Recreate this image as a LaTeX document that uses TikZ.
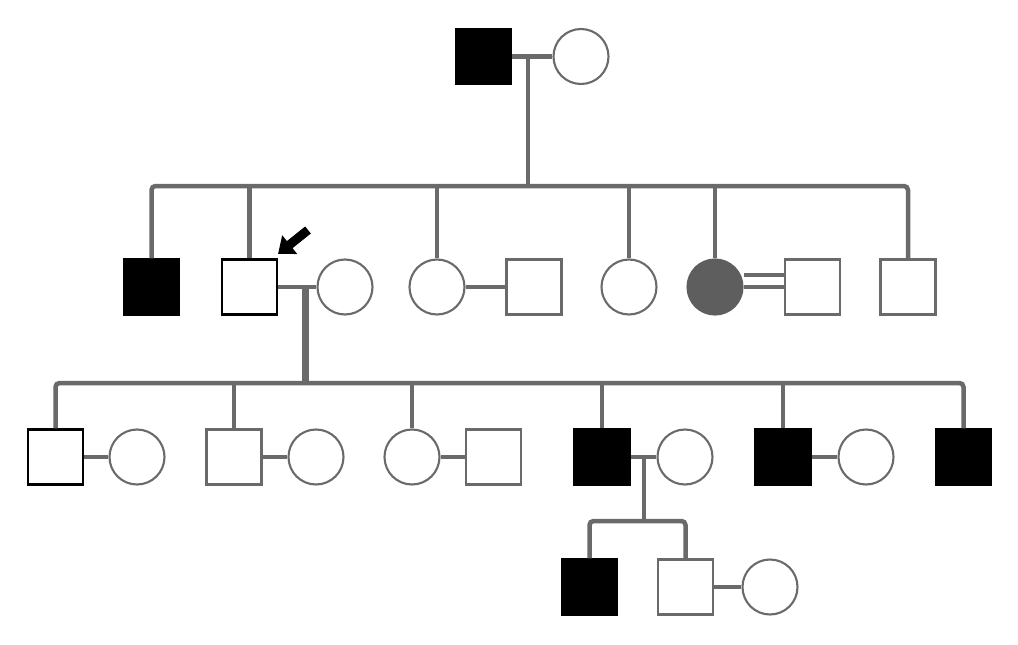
\documentclass[tikz,border=0pt]{standalone}
\usetikzlibrary{arrows.meta}
\definecolor{lc}{HTML}{6A6A6A}
\definecolor{gf}{HTML}{5E5E5E}
\begin{document}
\begin{tikzpicture}[x=1pt,y=-1pt,
  ind/.style={draw=lc, line width=2.1pt, inner sep=0pt, minimum size=55pt, fill=white},
  sq/.style={ind, rectangle},
  ci/.style={ind, circle},
  aff/.style={fill=black, draw=black},
  blk/.style={draw=black},
  link/.style={draw=lc, line width=4.5pt},
  sib/.style={link, rounded corners=4pt}]
\useasboundingbox[fill=white] (0,0) rectangle (1018,645);
% Generation I
\node[sq,aff] (m1) at (483.5,56.5) {};
\node[ci] (f1) at (581,56.5) {};
% Generation II
\node[sq,aff] (a1) at (151.5,287) {};
\node[sq,blk] (a2) at (249.5,287) {};
\node[ci] (a2w) at (345,287) {};
\node[ci] (a3) at (437,287) {};
\node[sq] (a3h) at (534,287) {};
\node[ci] (a4) at (629,287) {};
\node[ci,fill=gf,draw=gf] (a5) at (715,287) {};
\node[sq] (a5h) at (812.5,287) {};
\node[sq] (a6) at (908,287) {};
% Generation III
\node[sq,blk] (b1) at (55.5,457) {};
\node[ci] (b1w) at (137,457) {};
\node[sq] (b2) at (234,457) {};
\node[ci] (b2w) at (316,457) {};
\node[ci] (b3) at (412,457) {};
\node[sq] (b3h) at (493.5,457) {};
\node[sq,aff] (b4) at (602,457) {};
\node[ci] (b4w) at (685,457) {};
\node[sq,aff] (b5) at (783,457) {};
\node[ci] (b5w) at (866,457) {};
\node[sq,aff] (b6) at (963.5,457) {};
% Generation IV
\node[sq,aff] (c1) at (589.5,587) {};
\node[sq] (c2) at (685.5,587) {};
\node[ci] (c2w) at (770,587) {};
% couple lines
\draw[link] (m1) -- (f1);
\draw[link] (a2) -- (a2w);
\draw[link] (a3) -- (a3h);
\draw[link, line width=4pt] ([yshift=12pt]a5.east) -- ([yshift=12pt]a5h.west);
\draw[link, line width=4pt] (a5.east) -- (a5h.west);
\draw[link] (b1) -- (b1w);
\draw[link] (b2) -- (b2w);
\draw[link] (b3) -- (b3h);
\draw[link] (b4) -- (b4w);
\draw[link] (b5) -- (b5w);
\draw[link] (c2) -- (c2w);
% descent I -> II
\coordinate (d1) at (528,56.5);
\coordinate (s1) at (528,186);
\draw[link] (d1) -- (s1);
\draw[sib] (a1.north) |- (s1) -| (a6.north);
\foreach \n in {a2,a3,a4,a5} \draw[link] (\n.north) -- (\n.north |- s1);
% descent II -> III
\coordinate (d2) at (305,287);
\coordinate (s2) at (305,383);
\draw[link, line width=7pt] (d2) -- (s2);
\draw[sib] (b1.north) |- (s2) -| (b6.north);
\foreach \n in {b2,b3,b4,b5} \draw[link] (\n.north) -- (\n.north |- s2);
% descent III -> IV
\coordinate (d3) at (644,457);
\coordinate (s3) at (644,521);
\draw[link] (d3) -- (s3);
\draw[sib] (c1.north) |- (s3) -| (c2.north);
% proband arrow
\coordinate (pa) at (308,230);
\coordinate (pb) at (278,254);
\draw[line width=9pt, -{Triangle[length=15pt,width=23pt]}] (pa) -- (pb);
\end{tikzpicture}
\end{document}
